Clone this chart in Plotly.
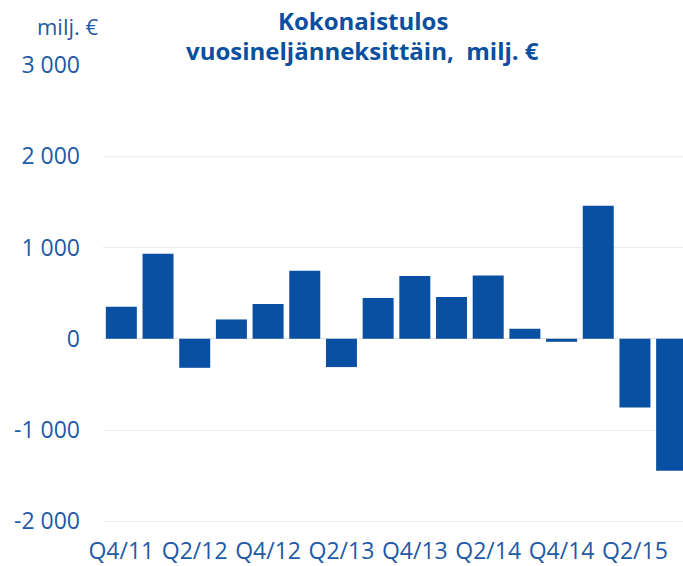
import plotly.graph_objects as go

categories = ["Q4/11", "Q1/12", "Q2/12", "Q3/12", "Q4/12", "Q1/13", "Q2/13", "Q3/13",
              "Q4/13", "Q1/14", "Q2/14", "Q3/14", "Q4/14", "Q1/15", "Q2/15", "Q3/15"]
values = [351, 932, -318, 212, 380, 745, -310, 446,
          687, 457, 694, 110, -33, 1458, -753, -1447]
x_tick_labels = categories[::2]
y_tick_values = [-2000, -1000, 0, 1000, 2000, 3000]
y_tick_labels = ["-2 000", "-1 000", "0", "1 000", "2 000", "3 000"]

W, H = 683, 566
L, R, T, B = 103, 0, 65, 31
PW, PH = W - L - R, H - T - B
FONT = "Open Sans"
TEXT = "#1F5AA6"
TITLE = "#0A4FA0"
BAR = "#0A50A2"


def px_x(x):
    return (x - L) / PW


def px_y(y):
    return 1 - (y - T) / PH


fig = go.Figure(go.Bar(x=categories, y=values, marker=dict(color=BAR, line=dict(width=0))))

fig.update_layout(
    width=W, height=H,
    margin=dict(l=L, r=R, t=T, b=B),
    paper_bgcolor="white", plot_bgcolor="white",
    bargap=0.155,
    showlegend=False,
    font=dict(family=FONT, color=TEXT, size=21),
    annotations=[
        dict(text="<b>Kokonaistulos</b>", xref="paper", yref="paper",
             x=px_x(363), xanchor="center", y=px_y(20), yanchor="middle", showarrow=False,
             font=dict(family=FONT, size=24, color=TITLE)),
        dict(text="<b>vuosineljänneksittäin,  milj. €</b>", xref="paper", yref="paper",
             x=px_x(362), xanchor="center", y=px_y(50), yanchor="middle", showarrow=False,
             font=dict(family=FONT, size=24, color=TITLE)),
        dict(text="milj. €", xref="paper", yref="paper",
             x=px_x(101), xanchor="right", y=px_y(26), yanchor="middle", showarrow=False,
             font=dict(family=FONT, size=22, color=TEXT)),
    ],
)

fig.update_xaxes(type="category", range=[-0.5, 15.31], tickmode="array",
                 tickvals=x_tick_labels, ticktext=x_tick_labels,
                 showgrid=False, showline=False, zeroline=False, ticks="",
                 tickfont=dict(family=FONT, size=23, color=TEXT))
fig.update_yaxes(range=[-2150, 3000], tickmode="array", tickvals=y_tick_values,
                 ticktext=y_tick_labels, showgrid=True, gridcolor="#EAEAEA", gridwidth=1,
                 zeroline=True, zerolinecolor="#E2E2E2", zerolinewidth=1,
                 showline=False, ticks="", ticklabelstandoff=22,
                 tickfont=dict(family=FONT, size=23, color=TEXT))

fig.write_html("out.html", config={"displayModeBar": False},
               post_script="document.body.style.margin='0';document.body.style.overflow='hidden';")
